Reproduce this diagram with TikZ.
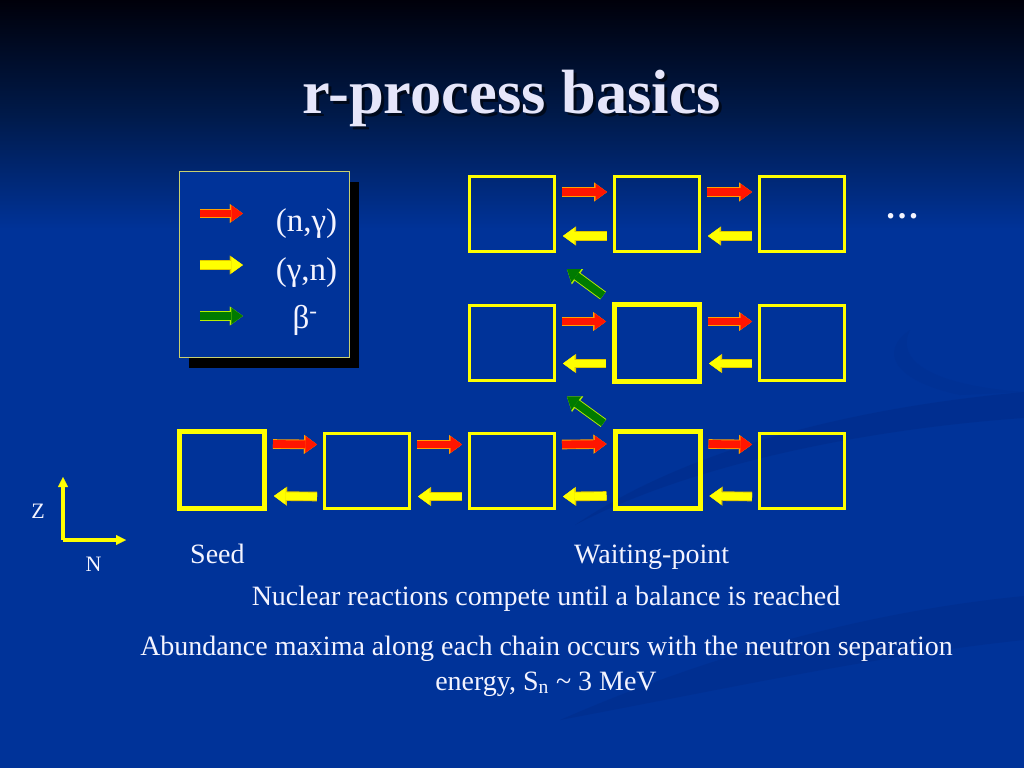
\documentclass[tikz,border=0pt]{standalone}
\usepackage{fontspec}
\setmainfont{Liberation Serif}
\usetikzlibrary{arrows.meta,calc,shadows}
\definecolor{bg}{HTML}{003399}
\definecolor{bgtop}{HTML}{00000A}
\definecolor{bgmid}{HTML}{001A4A}
\definecolor{ylw}{HTML}{FFFF00}
\definecolor{txt}{HTML}{F4F4FF}
\definecolor{ttl}{HTML}{E6E6FA}
\definecolor{redf}{HTML}{FF1500}
\definecolor{redo}{HTML}{FFA000}
\definecolor{ylwo}{HTML}{E0C800}
\definecolor{grnf}{HTML}{007A00}
\definecolor{grno}{HTML}{B8F000}
\definecolor{legedge}{HTML}{C8D070}
\definecolor{swoosh}{HTML}{002A86}
\tikzset{
  cell/.style={draw=ylw, line width=3pt, minimum width=85pt, minimum height=75pt, inner sep=0pt},
  thickcell/.style={draw=ylw, line width=5pt, minimum width=85pt, minimum height=77pt, inner sep=0pt},
  fatarrow/.style 2 args={draw=#1, line width=7.8pt,
     -{Triangle[width=16.5pt,length=11.5pt,line width=0.1pt,fill=#1]},
     preaction={draw=#2, line width=9.6pt, -{Triangle[width=19pt,length=13pt,line width=0.1pt,fill=#2]}}},
  redarr/.style={fatarrow={redf}{redo}},
  ylwarr/.style={fatarrow={ylw}{ylwo}},
  grnarr/.style={fatarrow={grnf}{grno}},
  axisarr/.style={draw=ylw, line width=3.2pt, -{Triangle[width=10pt,length=10pt,line width=0.1pt]}},
  body/.style={text=txt, font=\fontsize{28}{32}\selectfont, inner sep=0pt, anchor=base},
  legtext/.style={text=txt, font=\fontsize{33}{36}\selectfont, inner sep=0pt, anchor=base},
  legendbox/.style={draw=legedge, line width=1.5pt, fill=bg, minimum width=170pt, minimum height=186pt,
     drop shadow={shadow xshift=9pt, shadow yshift=-10pt, fill=black, opacity=1}}
}
\begin{document}
\begin{tikzpicture}[x=1pt,y=-1pt]
\useasboundingbox (0,0) rectangle (1024,768);
% background
\fill[bg] (0,0) rectangle (1024,768);
\shade[top color=bgtop, bottom color=bg, middle color=bgmid] (0,0) rectangle (1024,230);
\fill[swoosh, opacity=0.45] (575,525) .. controls (700,440) and (880,405) .. (1024,392) -- (1024,418) .. controls (880,428) and (700,460) .. (575,525) -- cycle;
\fill[swoosh, opacity=0.4] (560,720) .. controls (720,650) and (880,610) .. (1024,596) -- (1024,640) .. controls (880,655) and (720,690) .. (560,720) -- cycle;
\fill[swoosh, opacity=0.2] (960,395) .. controls (890,380) and (880,350) .. (910,330) .. controls (895,360) and (930,385) .. (1024,392) -- cycle;

% title
\node[text=black, opacity=0.6, font=\fontsize{62.5}{66}\selectfont\bfseries, inner sep=0pt, anchor=base] (titleshadow) at (515,116) {r-process basics};
\node[text=ttl, font=\fontsize{62.5}{66}\selectfont\bfseries, inner sep=0pt, anchor=base] (title) at (512,113) {r-process basics};

% legend
\node[legendbox] (leg) at (264.5,264.5) {};
\draw[redarr] ($(leg.west)+(21,-51)$) -- ($(leg.west)+(64,-51)$);
\draw[ylwarr] ($(leg.west)+(21,0.5)$) -- ($(leg.west)+(64,0.5)$);
\draw[grnarr] ($(leg.west)+(21,51.5)$) -- ($(leg.west)+(64,51.5)$);
\node[legtext] (ng) at (306.5,231) {(n,γ)};
\node[legtext] (gn) at (306.5,280) {(γ,n)};
\node[legtext] (beta) at (305,328) {β\textsuperscript{-}};

% cells
\node[cell] (c3r1) at (512,214) {};
\node[cell] (c4r1) at (657,214) {};
\node[cell] (c5r1) at (802,214) {};
\node[cell] (c3r2) at (512,342.5) {};
\node[thickcell] (c4r2) at (657,342.5) {};
\node[cell] (c5r2) at (802,342.5) {};
\node[thickcell] (c1r3) at (222,470) {};
\node[cell] (c2r3) at (367,470.5) {};
\node[cell] (c3r3) at (512,470.5) {};
\node[thickcell] (c4r3) at (657.5,470) {};
\node[cell] (c5r3) at (802,470.5) {};

% arrows between cells
\foreach \a/\b/\d in {c3r1/c4r1/22, c4r1/c5r1/22, c3r2/c4r2/21, c4r2/c5r2/21, c1r3/c2r3/26, c2r3/c3r3/26, c3r3/c4r3/26, c4r3/c5r3/26} {
  \draw[redarr] ($(\a.east)+(6,-\d)$) -- ($(\b.west)+(-6,-\d)$);
  \draw[ylwarr] ($(\b.west)+(-6,\d)$) -- ($(\a.east)+(7,\d)$);
}
% beta decays
\draw[grnarr] ($(c4r2.north west)+(-9,-6)$) -- ($(c3r1.south east)+(11,16)$);
\draw[grnarr] ($(c4r3.north west)+(-9,-6)$) -- ($(c3r2.south east)+(11,15)$);

\node[text=txt, font=\fontsize{34}{36}\selectfont\bfseries, inner sep=0pt, anchor=base] (dots) at (902,218) {…};

% axes
\coordinate (ax0) at (63,540);
\coordinate (axz) at (63,477);
\coordinate (axn) at (126,540);
\draw[axisarr] (ax0) -- (axz);
\draw[axisarr] (ax0) -- (axn);
\node[text=txt, font=\fontsize{22}{24}\selectfont, inner sep=0pt, anchor=base] (zlab) at (38,518) {Z};
\node[text=txt, font=\fontsize{22}{24}\selectfont, inner sep=0pt, anchor=base] (nlab) at (93.5,571) {N};

% texts
\node[body, anchor=base west] (seed) at (190,563) {Seed};
\node[body, anchor=base west] (wait) at (574,563) {Waiting-point};
\node[body] (l1) at (546,605) {Nuclear reactions compete until a balance is reached};
\node[body] (l2) at (546.5,655) {Abundance maxima along each chain occurs with the neutron separation};
\node[body] (l3) at (546,690) {energy, S\textsubscript{n} \textasciitilde{} 3 MeV};
\end{tikzpicture}
\end{document}
